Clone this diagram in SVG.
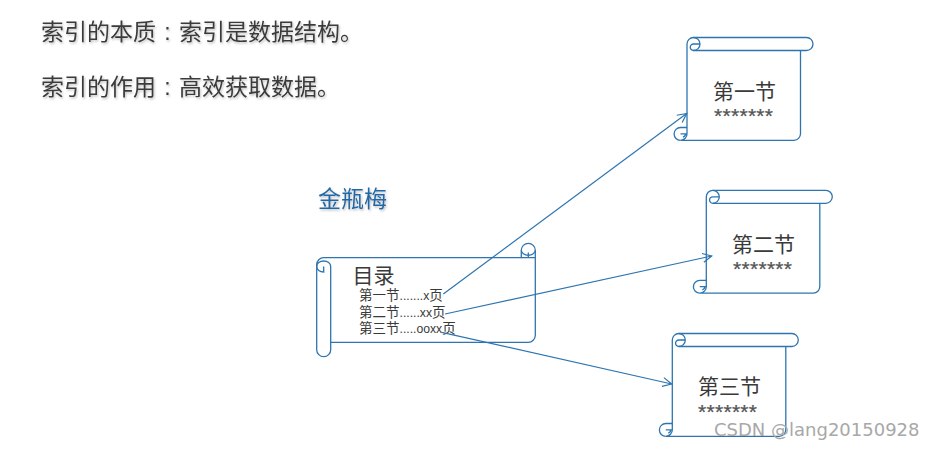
<svg xmlns="http://www.w3.org/2000/svg" width="934" height="450" viewBox="0 0 934 450">
<style>
text{font-family:"Liberation Sans","Noto Sans CJK SC",sans-serif;fill:#3a3a3a}
.h{font-size:23px;filter:url(#sh)}
.t{font-size:21px}
.s{font-size:13.5px}
.l{font-size:12.2px}
.st{font-size:21px;fill:#555;letter-spacing:.3px;stroke:#555;stroke-width:.25}
.shape{fill:#fff;stroke:#2e75b0;stroke-width:1.3}
.roll{fill:none;stroke:#2e75b0;stroke-width:1.3}
.c{fill:none;stroke:#2e75b0;stroke-width:1.2}
</style>
<defs>
<filter id="sh" x="-5%" y="-20%" width="110%" height="150%"><feDropShadow dx="1" dy="1.5" stdDeviation="1" flood-color="#888" flood-opacity="0.55"/></filter>
<marker id="a" markerUnits="userSpaceOnUse" markerWidth="14" markerHeight="14" refX="11" refY="6" orient="auto"><path d="M2,1.5 L11,6 L2,10.5" fill="none" stroke="#2e75b0" stroke-width="1.2"/></marker>
<g id="sc">
<path class="shape" d="M6.5,13 H119.5 A6.5,6.5 0 0 0 119.5,0 H6.5 A6.5,6.5 0 0 0 0,6.5 V96 A6.5,6.5 0 0 1 -6.5,102.8 H107 A6.5,6.5 0 0 0 113.5,96.3 V13"/>
<path class="roll" d="M6.5,0 A6.5,6.5 0 0 1 6.5,13 A3.2,3.2 0 0 1 6.5,6.5 H13"/>
<path class="roll" d="M0,90 H-6.5 A6.4,6.4 0 1 0 -6.5,102.8 M-6.5,96.3 H0 M-1.5,96.3 A3.2,3.2 0 0 1 -4,99.5"/>
</g>
</defs>
<rect width="934" height="450" fill="#fff"/>
<text class="h" x="41" y="40">索引的本质<tspan dx="8.3">:</tspan><tspan dx="8.3">索引是数据结构。</tspan></text>
<text class="h" x="41" y="95">索引的作用<tspan dx="8.3">:</tspan><tspan dx="8.3">高效获取数据。</tspan></text>
<text class="h" x="318" y="207" style="fill:#1f69a8">金瓶梅</text>
<g id="toc">
<path class="shape" d="M323.7,257.7 H521.3 V250.3 A7,7 0 0 1 535.3,250.3 V335.3 A7,7 0 0 1 528.3,342.3 H330.7 V349.7 A7,7 0 0 1 316.7,349.7 V264.7 A7,7 0 0 1 323.7,257.7 Z"/>
<path class="roll" d="M330.7,342.3 V266.5 A7,5.5 0 0 0 316.7,266.5 A7,5.5 0 0 0 323.7,272 V266.5 M521.3,250.3 A7,5 0 0 0 535.3,250.3 M521.3,257.7 H535.3 M528.3,257.7 V252.5"/>
<text class="t" x="352.5" y="283">目录</text>
<text class="s" x="359" y="300">第一节<tspan class="l">.......x</tspan>页</text>
<text class="s" x="359" y="317">第二节<tspan class="l">......xx</tspan>页</text>
<text class="s" x="359" y="333">第三节<tspan class="l">.....ooxx</tspan>页</text>
</g>
<g id="sec1">
<use href="#sc" x="687" y="37.5"/>
<text class="t" x="713" y="99">第一节</text>
<text class="st" x="714" y="123">*******</text>
</g>
<g id="sec2">
<use href="#sc" x="706.3" y="190.3"/>
<text class="t" x="732" y="252">第二节</text>
<text class="st" x="733" y="276">*******</text>
</g>
<g id="sec3">
<use href="#sc" x="672.3" y="333.5"/>
<text class="t" x="698" y="394">第三节</text>
<text class="st" x="698" y="419">*******</text>
</g>
<g id="connectors">
<path class="c" d="M443.3,294 L686.7,113.5" marker-end="url(#a)"/>
<path class="c" d="M445,314 L711.7,256" marker-end="url(#a)"/>
<path class="c" d="M441.7,332.3 L671.7,384" marker-end="url(#a)"/>
</g>
<text x="714" y="436" style="font-family:'DejaVu Sans',sans-serif;font-size:18px;fill:#a8a8a8">CSDN @lang20150928</text>
</svg>
